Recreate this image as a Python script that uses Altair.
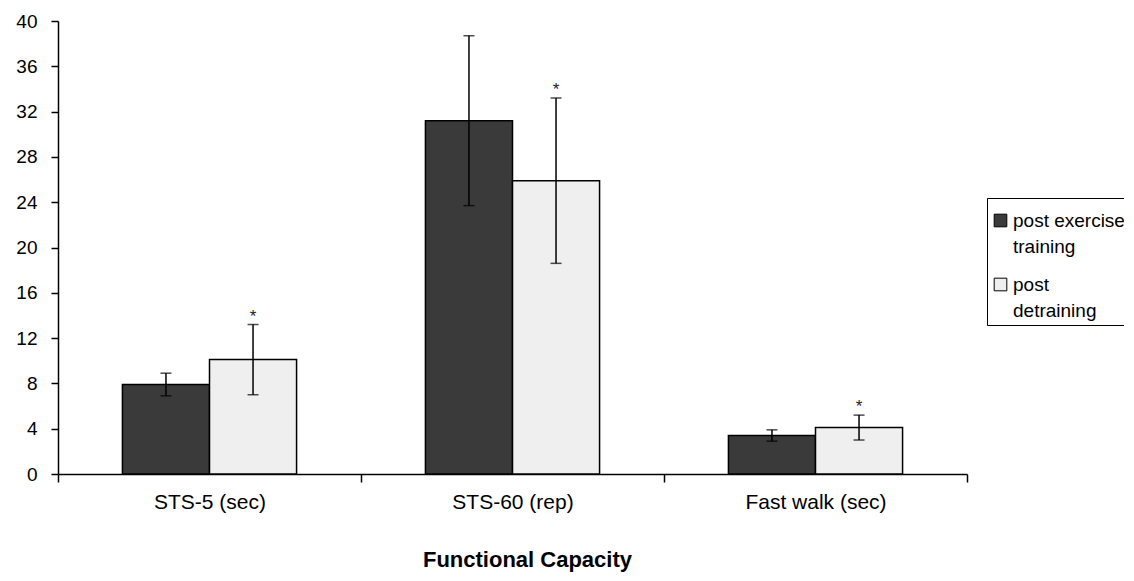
import altair as alt
import pandas as pd

categories = ["STS-5 (sec)", "STS-60 (rep)", "Fast walk (sec)"]
series = ["post exercise training", "post detraining"]
training_mean = [7.9, 31.2, 3.4]
training_sd = [1.0, 7.5, 0.5]
detraining_mean = [10.1, 25.9, 4.1]
detraining_sd = [3.1, 7.3, 1.1]
detraining_sig = ["*", "*", "*"]
y_ticks = [0, 4, 8, 12, 16, 20, 24, 28, 32, 36, 40]

rows = []
for i, c in enumerate(categories):
    rows.append(dict(category=c, series=series[0], mean=training_mean[i],
                     lo=training_mean[i] - training_sd[i], hi=training_mean[i] + training_sd[i], sig=""))
    rows.append(dict(category=c, series=series[1], mean=detraining_mean[i],
                     lo=detraining_mean[i] - detraining_sd[i], hi=detraining_mean[i] + detraining_sd[i],
                     sig=detraining_sig[i]))
df = pd.DataFrame(rows)

FONT = "Liberation Sans"

x_enc = alt.X("category:N", sort=categories,
              scale=alt.Scale(paddingInner=0, paddingOuter=0),
              axis=alt.Axis(title="Functional Capacity", tickBand="extent", labelAngle=0,
                            labelFontSize=21, labelPadding=9, tickSize=8,
                            titleFontSize=22, titleFontWeight="bold", titlePadding=37,
                            titleX=469))
xo_enc = alt.XOffset("series:N", sort=series,
                     scale=alt.Scale(paddingInner=0, paddingOuter=0.74))
y_scale = alt.Scale(domain=[0, 40], nice=False)
y_axis = alt.Axis(title=None, values=y_ticks, grid=False, labelFontSize=19,
                  tickSize=7, labelPadding=14)

base = alt.Chart(df)

bars = base.mark_bar(stroke="black", strokeWidth=1.5).encode(
    x=x_enc, xOffset=xo_enc,
    y=alt.Y("mean:Q", scale=y_scale, axis=y_axis),
    color=alt.Color("series:N", sort=series,
                    scale=alt.Scale(domain=series, range=["#3a3a3a", "#efefef"]),
                    legend=alt.Legend(
                        title=" ", titleFontSize=1, titlePadding=8,
                        orient="none", legendX=929, legendY=177,
                        strokeColor="black", padding=4, symbolType="square",
                        symbolSize=160, symbolStrokeColor="black", symbolStrokeWidth=1,
                        labelFontSize=19, labelFont=FONT, labelColor="black", labelLimit=0,
                        labelOffset=3, rowPadding=18, labelBaseline="middle",
                        labelExpr="datum.label == 'post exercise training' ? ['post exercise', 'training'] : ['post', 'detraining']")),
)

rules = base.mark_rule(color="black", strokeWidth=1.5).encode(
    x=x_enc, xOffset=xo_enc,
    y=alt.Y("lo:Q", scale=y_scale, axis=y_axis), y2="hi:Q",
)
caps_hi = base.mark_tick(color="black", thickness=1.5, size=11).encode(
    x=x_enc, xOffset=xo_enc, y=alt.Y("hi:Q", scale=y_scale, axis=y_axis),
)
caps_lo = base.mark_tick(color="black", thickness=1.5, size=11).encode(
    x=x_enc, xOffset=xo_enc, y=alt.Y("lo:Q", scale=y_scale, axis=y_axis),
)
stars = base.mark_text(fontSize=17, baseline="alphabetic", dy=-3, color="#222", font=FONT).encode(
    x=x_enc, xOffset=xo_enc, y=alt.Y("hi:Q", scale=y_scale, axis=y_axis), text="sig:N",
)

chart = alt.layer(bars, rules, caps_hi, caps_lo, stars).properties(
    width=909, height=453,
    autosize=alt.AutoSizeParams(type="none"),
    padding={"left": 50, "top": 13, "right": 157, "bottom": 99},
).configure(
    style={"guide-label": {"lineHeight": 26}}
).configure_view(stroke=None).configure_axis(
    domainColor="black", tickColor="black", labelColor="black", titleColor="black",
    labelFont=FONT, titleFont=FONT, domainWidth=1.5, tickWidth=1.5,
)

chart.save("out.html", embed_options={"renderer": "svg", "actions": False})
